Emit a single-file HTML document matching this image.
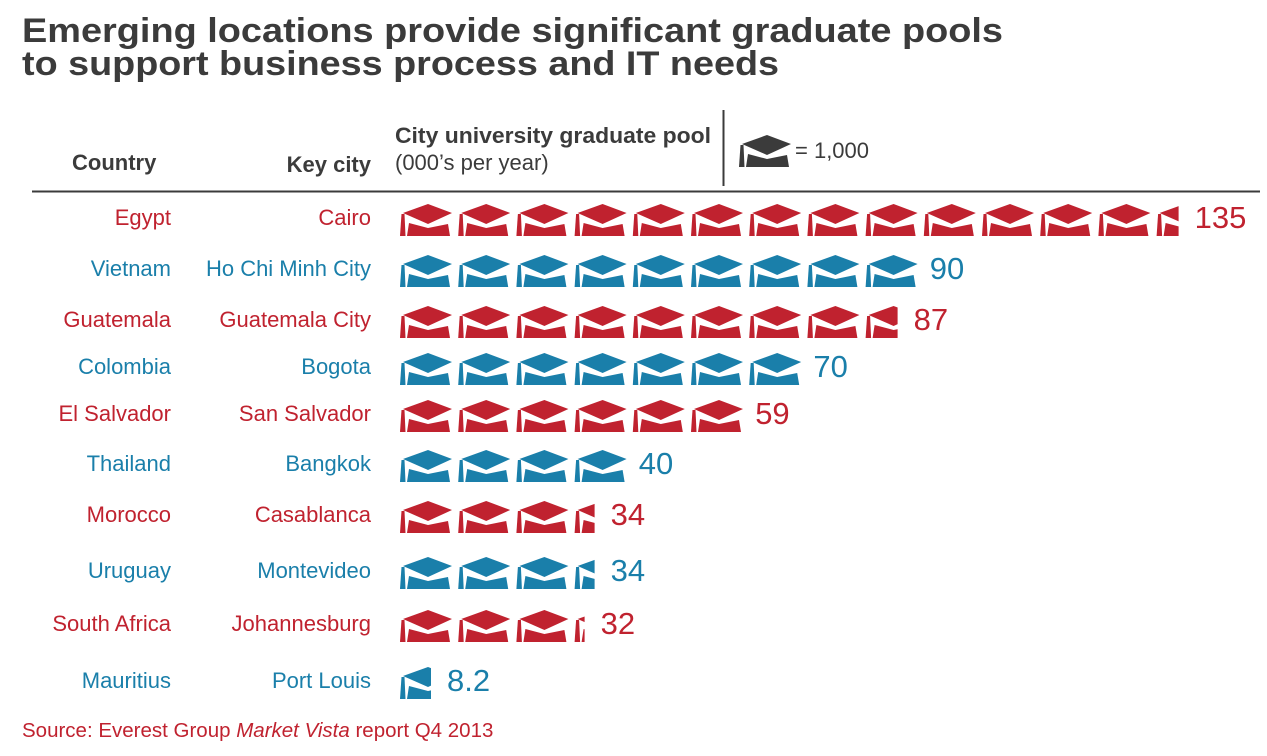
<!DOCTYPE html>
<html><head><meta charset="utf-8"><style>
body{margin:0;background:#fff;}
svg{display:block;font-family:"Liberation Sans",Arial,sans-serif;}
</style></head><body>
<svg id="s" width="1267" height="756" viewBox="0 0 1267 756" xmlns="http://www.w3.org/2000/svg">
<defs>
<g id="cap">
<polygon points="7,14 32,5 56,14 32,25"/>
<polygon points="13,24 32,29 52,25 54,37 11,37"/>
<polygon points="5.5,15 8.5,15 9.5,37 4,37"/>
</g>
</defs>
<text x="22" y="42" font-size="34" font-weight="bold" fill="#3b3b3b" textLength="981" lengthAdjust="spacingAndGlyphs">Emerging locations provide significant graduate pools</text>
<text x="22" y="75" font-size="34" font-weight="bold" fill="#3b3b3b" textLength="757" lengthAdjust="spacingAndGlyphs">to support business process and IT needs</text>
<text x="72" y="170" font-size="22" font-weight="bold" fill="#3b3b3b">Country</text>
<text x="371" y="172" font-size="22" font-weight="bold" fill="#3b3b3b" text-anchor="end">Key city</text>
<text x="395" y="143" font-size="22" font-weight="bold" fill="#3b3b3b" textLength="316" lengthAdjust="spacingAndGlyphs">City university graduate pool</text>
<text x="395" y="170" font-size="22" fill="#3b3b3b">(000’s per year)</text>
<line x1="723.5" y1="110" x2="723.5" y2="186" stroke="#3b3b3b" stroke-width="2"/>
<use href="#cap" x="735" y="130" fill="#3b3b3b"/>
<text x="795" y="158" font-size="22" fill="#3b3b3b">= 1,000</text>
<line x1="32" y1="191.5" x2="1260" y2="191.5" stroke="#3b3b3b" stroke-width="2"/>
<g id="rows"></g>
<text x="22" y="737" font-size="20.5" fill="#c0222f">Source: Everest Group <tspan font-style="italic">Market Vista</tspan> report Q4 2013</text>
</svg>
<script>
var R="#c0222f",B="#1a7faa";
var rows=[["Egypt","Cairo",217,13,26,"135",R],["Vietnam","Ho Chi Minh City",268,9,0,"90",B],["Guatemala","Guatemala City",319,8,36,"87",R],["Colombia","Bogota",366,7,0,"70",B],["El Salvador","San Salvador",413,6,0,"59",R],["Thailand","Bangkok",463,4,0,"40",B],["Morocco","Casablanca",514,3,24,"34",R],["Uruguay","Montevideo",570,3,24,"34",B],["South Africa","Johannesburg",623,3,14,"32",R],["Mauritius","Port Louis",680,0,35,"8.2",B]];
var g=document.getElementById("rows"),h="",P=58.2;
rows.forEach(function(r,i){
 var y=r[2],c=r[6];
 h+='<text x="171" y="'+(y+8)+'" font-size="22" fill="'+c+'" text-anchor="end">'+r[0]+'</text>';
 h+='<text x="371" y="'+(y+8)+'" font-size="22" fill="'+c+'" text-anchor="end">'+r[1]+'</text>';
 var x0=396,iy=y-18;
 for(var k=0;k<r[3];k++){h+='<use href="#cap" x="'+(x0+k*P)+'" y="'+iy+'" fill="'+c+'"/>';}
 var end=x0+r[3]*P;
 if(r[4]){h+='<svg x="'+end+'" y="'+iy+'" width="'+r[4]+'" height="40" overflow="hidden"><use href="#cap" fill="'+c+'"/></svg>';end+=r[4]+4;}
 else end-=2;
 h+='<text x="'+(end+12)+'" y="'+(y+11)+'" font-size="31" fill="'+c+'">'+r[5]+'</text>';
});
g.innerHTML=h;
</script>
</body></html>
